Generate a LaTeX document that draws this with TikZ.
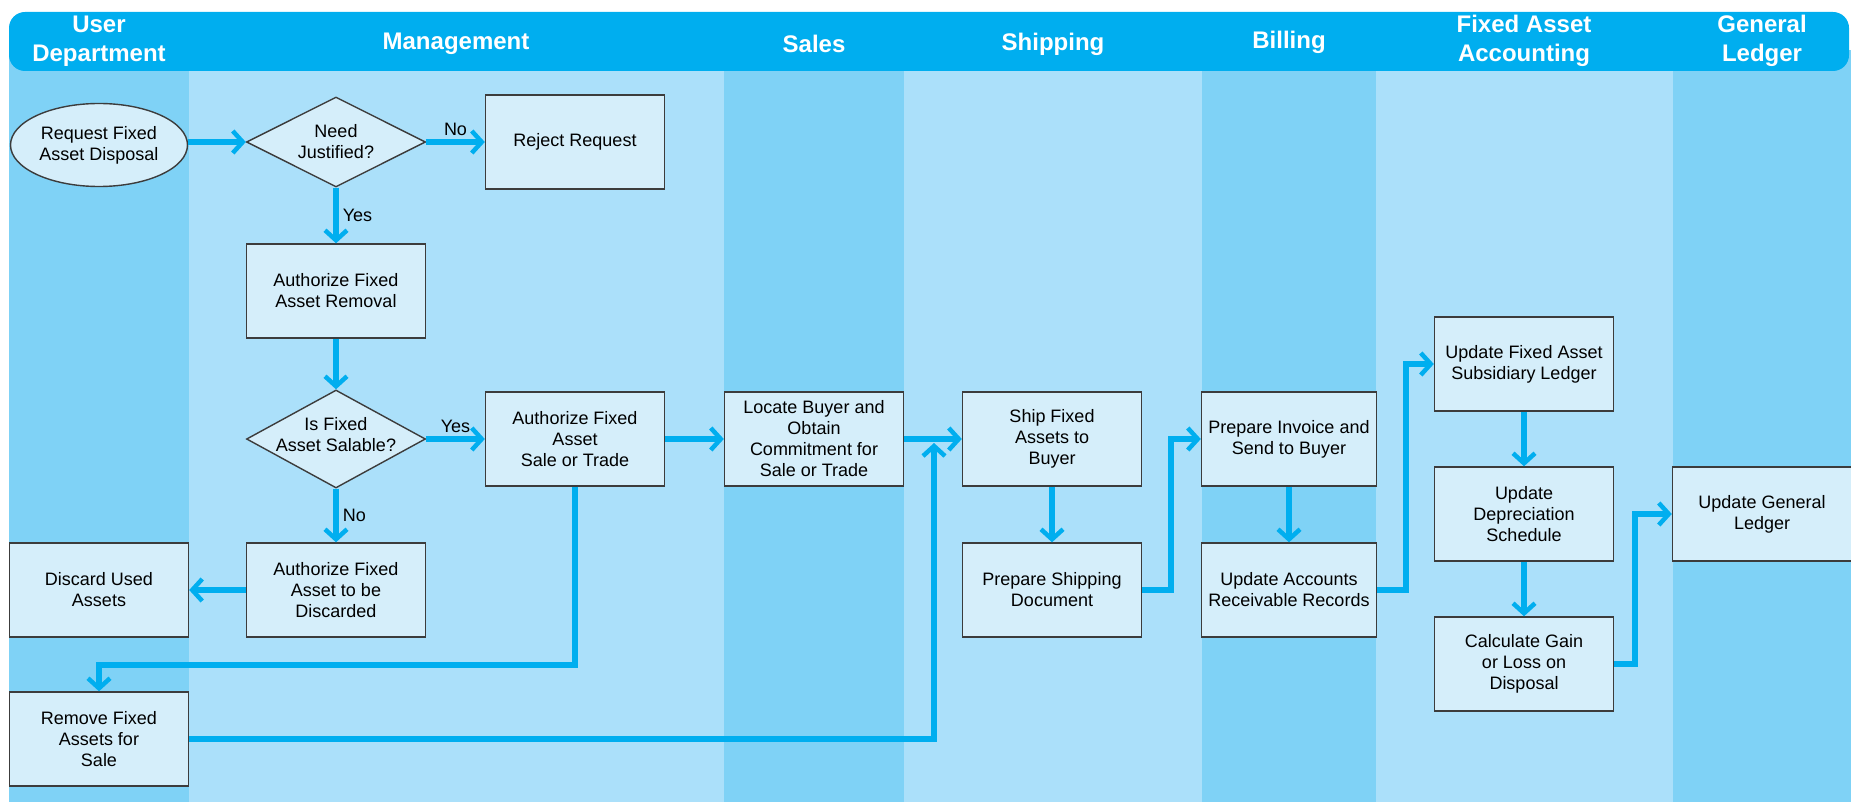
\documentclass[tikz,border=0pt]{standalone}
\usepackage{fontspec}
\setmainfont{Liberation Sans}
\usetikzlibrary{shapes.geometric,arrows.meta}

\definecolor{headblue}{HTML}{00AEEF}
\definecolor{lanedark}{HTML}{7FD2F6}
\definecolor{lanelight}{HTML}{ABE0FA}
\definecolor{boxfill}{HTML}{D5EEFA}
\definecolor{boxline}{HTML}{3C3C3C}

\tikzset{
  task/.style={draw=boxline, line width=1.4pt, fill=boxfill, minimum width=179pt,
    minimum height=94pt, inner sep=0pt, align=center, font=\fontsize{18}{21}\selectfont},
  decision/.style={task, shape=diamond, minimum height=90pt},
  terminal/.style={task, shape=ellipse, minimum width=177pt, minimum height=83pt},
  dtext/.style={align=center, inner sep=0pt, font=\fontsize{18}{21}\selectfont},
  flowlabel/.style={font=\fontsize{18}{21}\selectfont, inner sep=4pt},
  flow/.style={draw=headblue, line width=5.5pt,
    -{Straight Barb[length=10pt,width=22pt,line width=4.5pt]}},
  lanehead/.style={text=white, align=center, font=\bfseries\fontsize{24}{29}\selectfont},
}

\begin{document}
\begin{tikzpicture}[x=1pt, y=-1pt]
  \useasboundingbox (0,0) rectangle (1851,802);

  \foreach \xa/\xb/\col in {9/189/lanedark, 189/724/lanelight, 724/904/lanedark,
      904/1202/lanelight, 1202/1376/lanedark, 1376/1673/lanelight, 1673/1851/lanedark} {
    \fill[\col] (\xa,50) rectangle (\xb,802);
  }
  \fill[headblue, rounded corners=16pt] (9,12) rectangle (1849,71);
  \foreach \x/\y/\txt in {99/41/{User\\Department}, 456/44/{Management}, 814/44/{Sales},
      1053/44/{Shipping}, 1289/42/{Billing}, 1524/41/{Fixed Asset\\Accounting},
      1762/41/{General\\Ledger}} {
    \node[lanehead] (head\x) at (\x,\y) {\txt};
  }

  \node[terminal] (request) at (99,145) {Request Fixed\\Asset Disposal};
  \node[decision] (needjust) at (336,142) {};
  \node[dtext] (needtext) at (needjust) {Need\\Justified?};
  \node[task] (reject) at (575,142) {Reject Request};
  \node[task] (removal) at (336,291) {Authorize Fixed\\Asset Removal};
  \node[decision, minimum height=98pt] (salable) at (336,439) {};
  \node[dtext] (saltext) at (336,435) {Is Fixed\\Asset Salable?};
  \node[task] (saletrade) at (575,439) {Authorize Fixed\\Asset\\Sale or Trade};
  \node[task] (discauth) at (336,590) {Authorize Fixed\\Asset to be\\Discarded};
  \node[task] (discard) at (99,590) {Discard Used\\Assets};
  \node[task] (remove) at (99,739) {Remove Fixed\\Assets for\\Sale};
  \node[task] (buyer) at (814,439) {Locate Buyer and\\Obtain\\Commitment for\\Sale or Trade};
  \node[task] (ship) at (1052,439) {Ship Fixed\\Assets to\\Buyer};
  \node[task] (shipdoc) at (1052,590) {Prepare Shipping\\Document};
  \node[task, minimum width=175pt] (invoice) at (1289,439) {Prepare Invoice and\\Send to Buyer};
  \node[task, minimum width=175pt] (receiv) at (1289,590) {Update Accounts\\Receivable Records};
  \node[task] (subled) at (1524,364) {Update Fixed Asset\\Subsidiary Ledger};
  \node[task] (deprec) at (1524,514) {Update\\Depreciation\\Schedule};
  \node[task] (gainloss) at (1524,664) {Calculate Gain\\or Loss on\\Disposal};
  \node[task] (genled) at (1762,514) {Update General\\Ledger};

  \coordinate (bend) at (575,665);
  \coordinate (merge) at (934,443);

  \draw[flow] (request.east |- needjust) -- (needjust.west);
  \draw[flow] (needjust.east) -- node[flowlabel, above] (no1) {No} (reject.west);
  \draw[flow] (needjust.south) -- node[flowlabel, right] (yes1) {Yes} (removal.north);
  \draw[flow] (removal.south) -- (salable.north);
  \draw[flow] (salable.east) -- node[flowlabel, above] (yes2) {Yes} (saletrade.west);
  \draw[flow] (salable.south) -- node[flowlabel, right] (no2) {No} (discauth.north);
  \draw[flow] (discauth.west) -- (discard.east);
  \draw[flow] (saletrade.south) -- (bend) -| (remove.north);
  \draw[flow] (saletrade.east) -- (buyer.west);
  \draw[flow] (buyer.east) -- (ship.west);
  \draw[flow] (remove.east) -| (merge);
  \draw[flow] (ship.south) -- (shipdoc.north);
  \draw[flow] (shipdoc.east) -- ++(29,0) |- (invoice.west);
  \draw[flow] (invoice.south) -- (receiv.north);
  \draw[flow] (receiv.east) -- ++(29,0) |- (subled.west);
  \draw[flow] (subled.south) -- (deprec.north);
  \draw[flow] (deprec.south) -- (gainloss.north);
  \draw[flow] (gainloss.east) -- ++(21,0) |- (genled.west);
\end{tikzpicture}
\end{document}
